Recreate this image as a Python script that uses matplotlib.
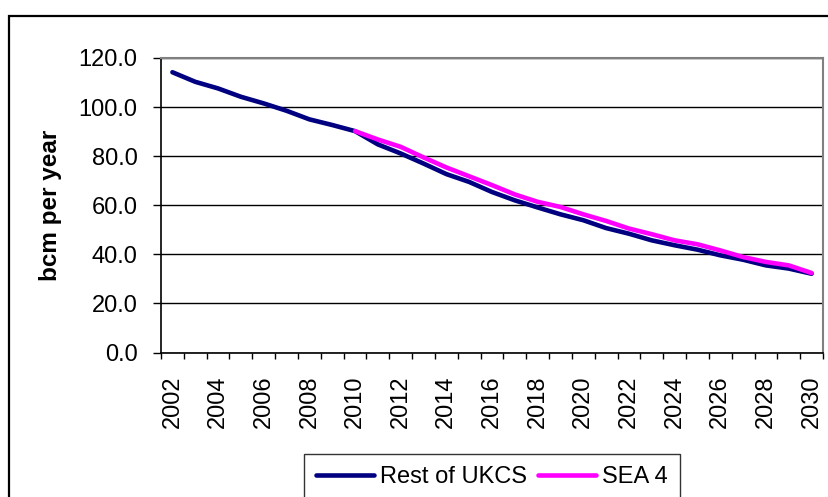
import matplotlib
matplotlib.use("Agg")
import matplotlib.pyplot as plt
from matplotlib.patches import Rectangle
from matplotlib.ticker import FixedLocator, FormatStrFormatter
import numpy as np

plt.rcParams['font.family'] = ['Liberation Sans', 'DejaVu Sans']

years = list(range(2002, 2031))
rest_of_ukcs = [114.2, 110.3, 107.6, 104.2, 101.5, 98.5, 95.0, 92.7, 90.2,
                84.8, 81.1, 77.0, 72.7, 69.5, 65.4, 62.0, 59.1, 56.3, 53.9,
                50.7, 48.4, 45.7, 43.7, 41.9, 39.6, 37.8, 35.5, 34.2, 32.1]
sea4_years = list(range(2010, 2031))
sea4 = [90.2, 86.8, 83.8, 79.5, 75.4, 71.8, 68.2, 64.4, 61.4, 59.3, 56.3,
        53.6, 50.5, 48.2, 45.7, 44.1, 41.6, 38.9, 36.9, 35.5, 32.4]
y_ticks = [0, 20, 40, 60, 80, 100, 120]
series_names = ["Rest of UKCS", "SEA 4"]
y_label = "bcm per year"

W, H = 829, 497
fig = plt.figure(figsize=(W / 100, H / 100), dpi=100)

# plot area in pixel coordinates
left, right, top, bottom = 161, 823, 58, 352.5
ax = fig.add_axes([left / W, 1 - bottom / H, (right - left) / W, (bottom - top) / H])

xi = np.arange(len(years))
sea_x = [years.index(y) for y in sea4_years]

ax.plot(xi, rest_of_ukcs, color="#000080", lw=3.3, solid_capstyle="round",
        solid_joinstyle="round", label=series_names[0], zorder=3)
ax.plot(sea_x, sea4, color="#FF00FF", lw=3.3, solid_capstyle="round",
        solid_joinstyle="round", label=series_names[1], zorder=4)

ax.set_xlim(-0.5, len(years) - 0.5)
ax.set_ylim(0, 120)

# y axis
ax.set_yticks(y_ticks)
ax.yaxis.set_major_formatter(FormatStrFormatter("%.1f"))
ax.tick_params(axis="y", direction="out", length=6, width=1, pad=11,
               labelsize=17, color="black")
ax.grid(axis="y", color="black", lw=1, zorder=1)

# x axis: labels on every other year, tick marks between categories
ax.xaxis.set_major_locator(FixedLocator(xi[::2]))
ax.set_xticklabels([str(y) for y in years[::2]], rotation=90)
ax.xaxis.set_minor_locator(FixedLocator(np.arange(-0.5, len(years), 1.0)))
ax.tick_params(axis="x", which="major", length=0, pad=16.5, labelsize=17)
ax.tick_params(axis="x", which="minor", direction="out", length=4.5, width=1,
               color="black")

ax.set_ylabel(y_label, fontsize=17.5, fontweight="bold")
ax.yaxis.set_label_coords(-(left - 62) / (right - left), 0.5)

for side in ("left", "bottom"):
    ax.spines[side].set_color("black")
    ax.spines[side].set_linewidth(1.2)
for side in ("right", "top"):
    ax.spines[side].set_color("#808080")
    ax.spines[side].set_linewidth(1.5)

leg = fig.legend(loc="upper left", bbox_to_anchor=(304 / W, 1 - 454 / H),
                 ncol=2, fontsize=17, frameon=True, fancybox=False,
                 handlelength=2.45, handletextpad=0.25, columnspacing=0.5,
                 borderpad=0.5, borderaxespad=0)
leg.get_frame().set_edgecolor("black")
leg.get_frame().set_linewidth(1)
for line in leg.get_lines():
    line.set_linewidth(3.3)

# outer chart border
fig.add_artist(Rectangle((9 / W, -0.1), 1.2, 1 - 16 / H + 0.1,
                         transform=fig.transFigure, fill=False,
                         edgecolor="black", lw=1.6))

fig.savefig("out.png", dpi=100)
